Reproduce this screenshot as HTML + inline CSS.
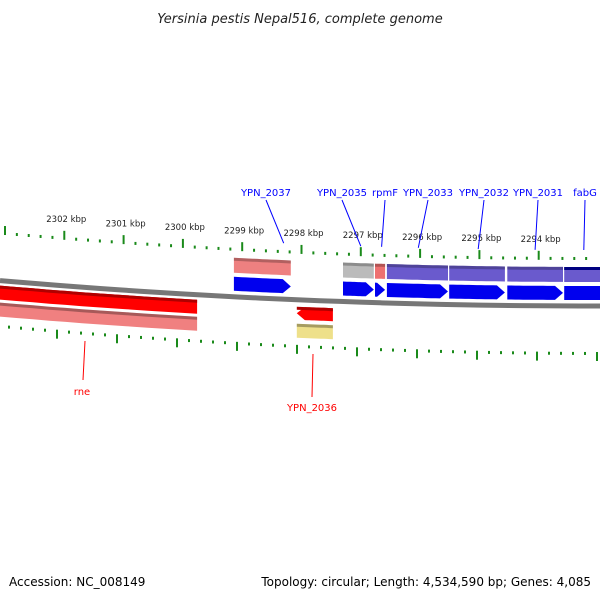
<!DOCTYPE html>
<html><head><meta charset="utf-8"><style>
body{margin:0;background:#fff}
svg{display:block;font-family:"DejaVu Sans","Liberation Sans",sans-serif}
</style></head><body>
<svg id="map" width="600" height="600" viewBox="0 0 600 600">
<text x="300" y="23" text-anchor="middle" font-size="13" font-style="italic" fill="#222">Yersinia pestis Nepal516, complete genome</text>
<g id="ticks"></g>
<g id="tracks"></g>
<g id="labels"></g>
<text x="9" y="586" font-size="12" fill="#000">Accession: NC_008149</text>
<text x="591" y="586" text-anchor="end" font-size="12" fill="#000">Topology: circular; Length: 4,534,590 bp; Genes: 4,085</text>
</svg>
<script>
const tickKbp=[2303,2302,2301,2300,2299,2298,2297,2296,2295,2294,2293];
const tickLabels=["2302 kbp","2301 kbp","2300 kbp","2299 kbp","2298 kbp","2297 kbp","2296 kbp","2295 kbp","2294 kbp"];
const labelKbp=[2302,2301,2300,2299,2298,2297,2296,2295,2294];
// forward genes [startKbp,endKbp]
const fwdNames=["YPN_2037","YPN_2035","rpmF","YPN_2033","YPN_2032","YPN_2031","fabG"];
const fwdStart=[2299.14,2297.30,2296.76,2296.56,2295.51,2294.53,2293.57];
const fwdEnd=[2298.18,2296.78,2296.59,2295.53,2294.57,2293.59,2292.90];
const fwdAnchorKbp=[2298.3,2297.0,2296.65,2296.03,2295.02,2294.06,2293.24];
const fwdTopColor=["#ee8080","#bbbbbb","#ee7070","#6a5acd","#6a5acd","#6a5acd","#6a5acd"];
// reverse genes
const revNames=["rne","YPN_2036"];
const revStart=[2303.2,2298.08];
const revEnd=[2299.76,2297.47];
const revBotColor=["#f08080","#eee08a"];
const labelX=[266,342,385,428,484,538,585];
const NS="http://www.w3.org/2000/svg";
function xk(k){return 5+(2303-k)*59.3;}
function cv(x){return -7.3e-5*(x-590)*(x-590);}
function mk(tag,attrs,parent){const e=document.createElementNS(NS,tag);for(const a in attrs)e.setAttribute(a,attrs[a]);parent.appendChild(e);return e;}
function band(x1,x2,base,h,color,parent,name,arrow){
  const n=12,pts=[];
  const tip=arrow==="r"?8:0,tl=arrow==="l"?8:0;
  for(let i=0;i<=n;i++){const x=x1+tl+(x2-tip-x1-tl)*i/n;pts.push([x,base+cv(x)]);}
  let d="M"+pts.map(p=>p[0].toFixed(1)+","+p[1].toFixed(1)).join(" L");
  if(arrow==="r"){d+=` L${x2},${(base+cv(x2)+h/2).toFixed(1)}`;}
  for(let i=n;i>=0;i--){const p=pts[i];d+=` L${p[0].toFixed(1)},${(p[1]+h).toFixed(1)}`;}
  if(arrow==="l"){d+=` L${x1},${(base+cv(x1)+h/2).toFixed(1)}`;}
  d+="Z";
  const e=mk("path",{d:d,fill:color},parent);
  
  
  return e;
}
const tk=document.getElementById('ticks');
for(let i=0;i<tickKbp.length-1;i++){
  for(let j=0;j<5;j++){
    const x=xk(tickKbp[i])+j*59.3/5;if(x>600)continue;
    const y=258+cv(x);
    const l=mk("line",{x1:x,x2:x,y1:j?y-1:y-7,y2:y+2,stroke:"#1a8a1a","stroke-width":2},tk);
    
    
  }
}
labelKbp.forEach((k,i)=>{const x=xk(k)+2;const t=mk("text",{x:x,y:(258+cv(x)-16).toFixed(1),"text-anchor":"middle","font-size":8.5,fill:"#222"},tk);t.textContent=tickLabels[i];
  
  });
for(let i=-1;i<10;i++){for(let j=0;j<5;j++){const x=57+i*60+j*12;if(x<0||x>600)continue;const y=353+cv(x-20);
  const l=mk("line",{x1:x,x2:x,y1:y-1,y2:j?y+2:y+8,stroke:"#1a8a1a","stroke-width":2},tk);
  
  }}
const tr=document.getElementById('tracks');
const bb=[];for(let x=0;x<=600;x+=20)bb.push(x+","+(306+cv(x)).toFixed(1));
const b1=mk("polyline",{points:bb.join(" "),fill:"none",stroke:"#777","stroke-width":5},tr);


fwdNames.forEach((n,i)=>{
  const x1=xk(fwdStart[i]),x2=Math.min(xk(fwdEnd[i]),600);
  band(x1,x2,267,15,fwdTopColor[i],tr,n+'-cds-block');
  band(x1,x2,267,3,i===6?"#000080":"rgba(0,0,0,0.25)",tr,n+'-edge');
  band(x1,x2,286,14,"#0000ee",tr,n+'-gene-arrow',i===6?null:"r");
});
revNames.forEach((n,i)=>{
  const x1=Math.max(xk(revStart[i]),0),x2=xk(revEnd[i]);
  band(x1,x2,i?313:311,i?13:14,"#ff0000",tr,n+'-gene-arrow',i?"l":null);
  band(x1,x2,i?313:311,3,"#b00000",tr,n+'-edge');
  band(x1,x2,i?330:328,14,revBotColor[i],tr,n+'-cds-block');
  band(x1,x2,i?330:328,3,"rgba(0,0,0,0.3)",tr,n+'-edge2');
});
const lb=document.getElementById('labels');
fwdNames.forEach((n,i)=>{
  const ax=xk(fwdAnchorKbp[i]);
  const l=mk("line",{x1:labelX[i],y1:200,x2:ax.toFixed(1),y2:(250+cv(ax)).toFixed(1),stroke:"#0000ff","stroke-width":1},lb);
  
  
  const t=mk("text",{x:labelX[i],y:196,"text-anchor":"middle","font-size":10,fill:"#0000ff"},lb);t.textContent=n;
  
  
});
[[85,341,83,380,82,395],[313,354,312,397,312,411]].forEach((p,i)=>{
  const l=mk("line",{x1:p[0],y1:p[1],x2:p[2],y2:p[3],stroke:"#ff0000","stroke-width":1},lb);
  
  
  const t=mk("text",{x:p[4],y:p[5],"text-anchor":"middle","font-size":10,fill:"#ff0000"},lb);t.textContent=revNames[i];
  
  
});
</script>
</body></html>
